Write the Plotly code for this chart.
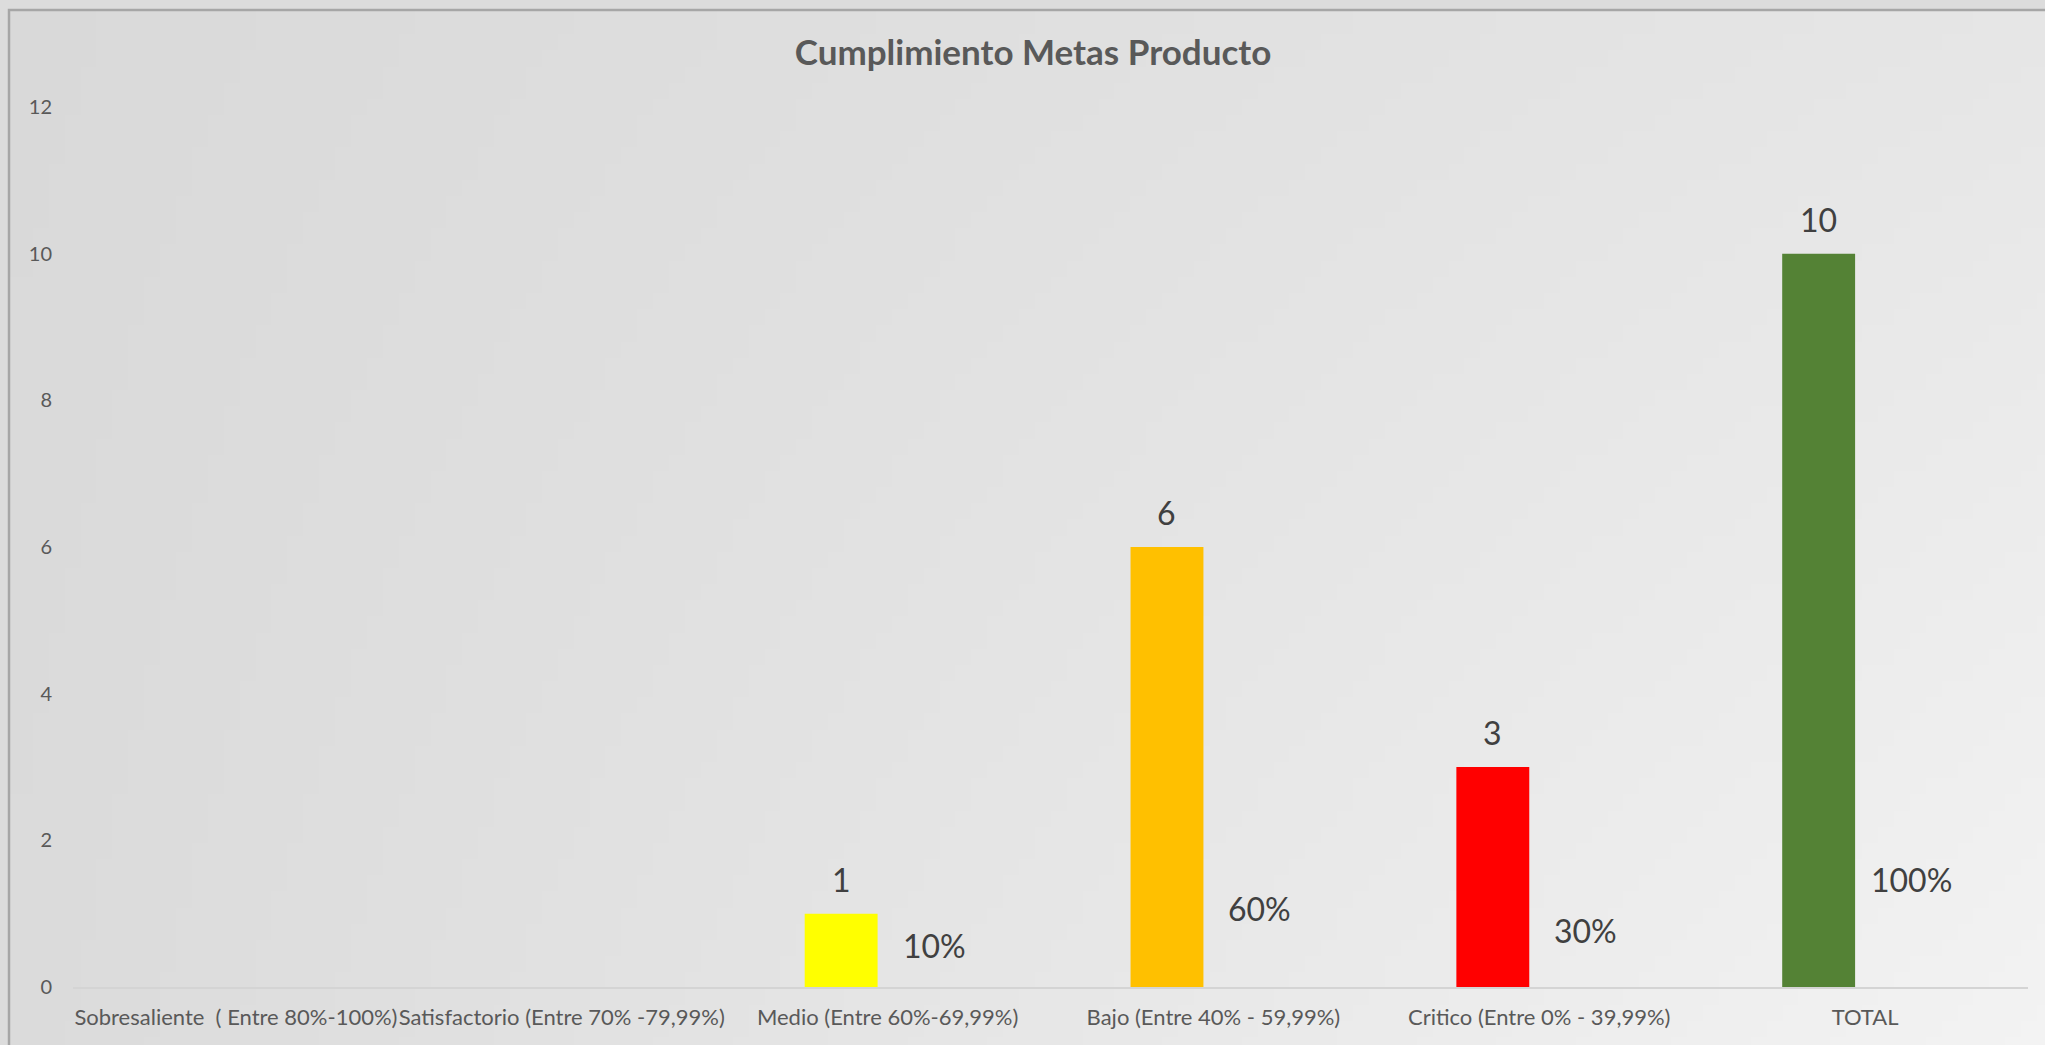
import base64
import struct
import zlib

import plotly.graph_objects as go

# ---------------- data ----------------
categories = [
    "Sobresaliente\u00a0 ( Entre 80%-100%)",
    "Satisfactorio (Entre 70% -79,99%)",
    "Medio (Entre 60%-69,99%)",
    "Bajo (Entre 40% - 59,99%)",
    "Critico (Entre 0% - 39,99%)",
    "TOTAL",
]
counts = [None, None, 1, 6, 3, 10]
shares = [None, None, 0.10, 0.60, 0.30, 1.00]
bar_colors = ["#FFFF00", "#FFFF00", "#FFFF00", "#FFC000", "#FF0000", "#548235"]
y_ticks = [0, 2, 4, 6, 8, 10, 12]
title_text = "Cumplimiento Metas Producto"

# ---------------- geometry (pixels) ----------------
W, H = 2045, 1045
ML, MR, MT, MB = 73, 17, 107, 58
PW = W - ML - MR
PH = H - MT - MB


def px_x(px):
    return (px - ML) / PW


def px_y(py):
    return (H - MB - py) / PH


# ---------------- gradient background as tiny PNG ----------------
def gradient_png(w, h, tl, tr, bl, br):
    rows = []
    for j in range(h):
        v = j / (h - 1)
        row = bytearray([0])
        for i in range(w):
            u = i / (w - 1)
            top = tl + (tr - tl) * u
            bot = bl + (br - bl) * u
            row.append(int(round(top + (bot - top) * v)))
        rows.append(bytes(row))
    raw = b"".join(rows)

    def chunk(tag, data):
        c = struct.pack(">I", len(data)) + tag + data
        return c + struct.pack(">I", zlib.crc32(tag + data) & 0xFFFFFFFF)

    png = b"\x89PNG\r\n\x1a\n"
    png += chunk(b"IHDR", struct.pack(">IIBBBBB", w, h, 8, 0, 0, 0, 0))
    png += chunk(b"IDAT", zlib.compress(raw, 9))
    png += chunk(b"IEND", b"")
    return "data:image/png;base64," + base64.b64encode(png).decode()


bg_src = gradient_png(128, 64, 0xD9, 0xE6, 0xDB, 0xF3)

fig = go.Figure()

fig.add_trace(
    go.Bar(
        x=categories,
        y=counts,
        marker=dict(color=bar_colors, line=dict(width=0)),
        hoverinfo="skip",
        showlegend=False,
    )
)
fig.add_trace(
    go.Bar(
        x=categories,
        y=shares,
        marker=dict(color="rgba(0,0,0,0)", line=dict(width=0)),
        hoverinfo="skip",
        showlegend=False,
    )
)

# data labels
slot = (1 - 0.43) * (PW / len(categories)) / 2
annotations = []
for cat, c, s in zip(categories, counts, shares):
    if c is not None:
        annotations.append(
            dict(
                x=cat, y=c, xref="x", yref="y", text=str(c), showarrow=False,
                xanchor="center", yanchor="bottom", xshift=-slot / 2, yshift=13,
                font=dict(family="Lato", size=32, color="#404040"),
            )
        )
    if s is not None:
        annotations.append(
            dict(
                x=cat, y=s, xref="x", yref="y", text=f"{int(round(s * 100))}%",
                showarrow=False, xanchor="center", yanchor="bottom",
                xshift=slot / 2, yshift=13,
                font=dict(family="Lato", size=32, color="#404040"),
            )
        )

# outer frame lines (top + left)
fx = px_x(9)
fy = px_y(10)
shapes = [
    dict(
        type="path", xref="paper", yref="paper",
        path=f"M {fx} {px_y(H + 5)} L {fx} {fy} L {px_x(W + 5)} {fy}",
        line=dict(color="#a6a6a6", width=2.5),
        layer="above",
    )
]

fig.update_layout(
    width=W,
    height=H,
    margin=dict(l=ML, r=MR, t=MT, b=MB, pad=0),
    paper_bgcolor="#dcdcdc",
    plot_bgcolor="rgba(0,0,0,0)",
    barmode="group",
    bargap=0.43,
    bargroupgap=0.215,
    title=dict(
        text=title_text,
        x=1033 / W, xref="container", xanchor="center",
        y=1 - 53 / H, yref="container", yanchor="middle",
        font=dict(family="Lato", size=35, color="#595959", weight="bold"),
    ),
    font=dict(family="Lato", color="#595959"),
    images=[
        dict(
            source=bg_src, xref="paper", yref="paper",
            x=fx, y=fy, sizex=px_x(W) - fx, sizey=fy - px_y(H),
            xanchor="left", yanchor="top", sizing="stretch", layer="below",
        )
    ],
    shapes=shapes,
    annotations=annotations,
    xaxis=dict(
        type="category",
        categoryorder="array",
        categoryarray=categories,
        showgrid=False,
        zeroline=False,
        showline=True,
        linecolor="#d4d4d4",
        linewidth=1.5,
        ticks="",
        tickangle=0,
        ticklabelstandoff=10,
        tickfont=dict(family="Lato", size=22, color="#595959"),
    ),
    yaxis=dict(
        range=[0, 12],
        tickvals=y_ticks,
        showgrid=False,
        zeroline=False,
        showline=False,
        ticks="",
        ticklabelstandoff=20,
        tickfont=dict(family="Lato", size=20, color="#595959"),
    ),
)

fig.write_html(
    "out.html",
    config={"displayModeBar": False},
    post_script="document.body.style.margin='0';",
)
